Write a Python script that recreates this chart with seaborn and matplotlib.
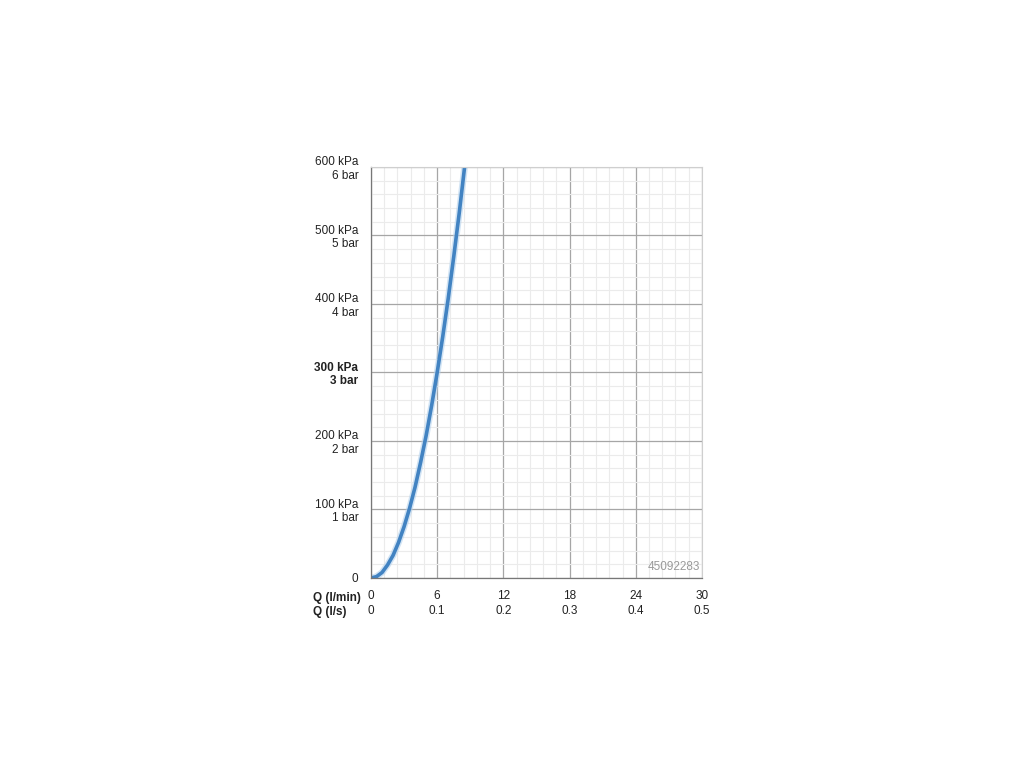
import matplotlib
matplotlib.use("Agg")
import matplotlib.pyplot as plt
import seaborn as sns
import pandas as pd
from matplotlib.ticker import MultipleLocator

# flow (l/min) vs pressure loss (kPa)
flow_lpm = [0.0, 0.5, 1.0, 1.5, 2.0, 2.5, 3.0, 3.5, 4.0, 4.5, 5.0, 5.5, 6.0, 6.5, 7.0, 7.5, 8.0, 8.5]
pressure_kpa = [0, 2, 8, 19, 33, 52, 75, 102, 133, 169, 208, 252, 300, 352, 408, 469, 533, 602]

x_ticks = [0, 6, 12, 18, 24, 30]
x_labels = ["0\n0", "6\n0.1", "12\n0.2", "18\n0.3", "24\n0.4", "30\n0.5"]
y_ticks = [0, 100, 200, 300, 400, 500, 600]
y_labels = ["0", "100 kPa\n1 bar", "200 kPa\n2 bar", "300 kPa\n3 bar",
            "400 kPa\n4 bar", "500 kPa\n5 bar", "600 kPa\n6 bar"]
code = "45092283"

sns.set_style("white")
plt.rcParams["font.family"] = ["Liberation Sans", "DejaVu Sans"]
plt.rcParams["font.size"] = 8.5

df = pd.DataFrame({"Q": flow_lpm, "p": pressure_kpa})

fig = plt.figure(figsize=(10.24, 7.68), dpi=100)
ax = fig.add_axes([0.3623, 0.2474, 0.3232, 0.5352])

ax.set_xlim(0, 30)
ax.set_ylim(0, 600)
ax.xaxis.set_major_locator(MultipleLocator(6))
ax.xaxis.set_minor_locator(MultipleLocator(1.2))
ax.yaxis.set_major_locator(MultipleLocator(100))
ax.yaxis.set_minor_locator(MultipleLocator(20))
ax.grid(which="minor", color="#ebebeb", lw=0.8)
ax.grid(which="major", color="#a6a6a6", lw=0.9)
ax.set_axisbelow(True)

# soft halo then the line itself
sns.lineplot(data=df, x="Q", y="p", ax=ax, color="#b5d3ee", lw=4.8, alpha=0.6)
sns.lineplot(data=df, x="Q", y="p", ax=ax, color="#4283c2", lw=2.6)

ax.set_xticks(x_ticks)
ax.set_xticklabels(x_labels, color="#222222", linespacing=1.3)
ax.set_yticks(y_ticks)
ax.set_yticklabels(y_labels, color="#222222", ha="right", linespacing=1.15)
for lbl in ax.get_yticklabels():
    if lbl.get_text().startswith("300"):
        lbl.set_fontweight("bold")
ax.tick_params(axis="both", which="major", length=3, width=0.8, color="#777777",
               direction="out")
ax.tick_params(axis="x", which="major", pad=6)
ax.tick_params(axis="y", which="major", pad=6)
ax.tick_params(which="minor", length=0)
ax.set_xlabel("")
ax.set_ylabel("")

for side in ["left", "bottom"]:
    ax.spines[side].set_color("#777777")
    ax.spines[side].set_linewidth(0.9)
for side in ["top", "right"]:
    ax.spines[side].set_color("#cfcfcf")
    ax.spines[side].set_linewidth(0.8)

fig.text(0.3525, 0.2215, "Q (l/min)", ha="right", va="center", fontweight="bold", color="#222222")
fig.text(0.338, 0.2035, "Q (l/s)", ha="right", va="center", fontweight="bold", color="#222222")

ax.text(0.995, 0.012, code, transform=ax.transAxes, ha="right", va="bottom",
        color="#9a9a9a", fontsize=8.5)

fig.savefig("out.png", dpi=100)
